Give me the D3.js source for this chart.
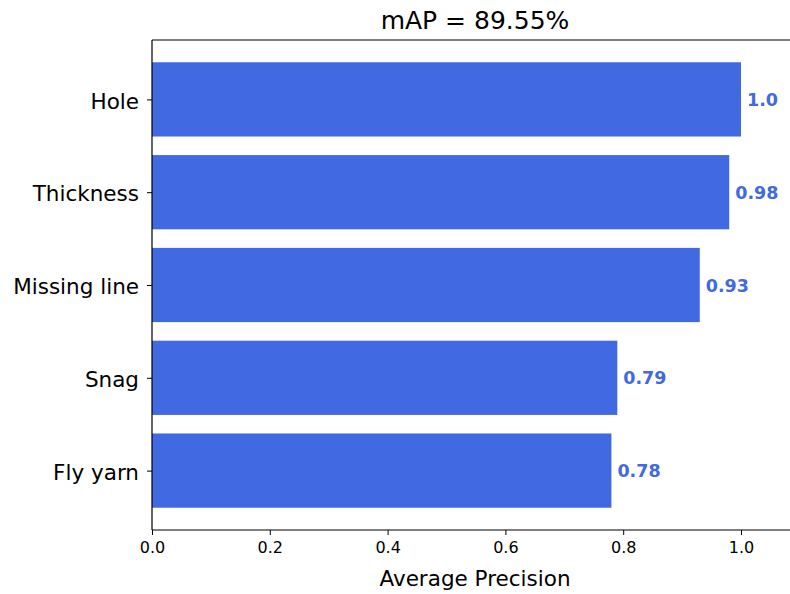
<!DOCTYPE html>
<html><head><meta charset="utf-8">
<script src="https://cdn.jsdelivr.net/npm/d3@7"></script>
<style>body{margin:0;background:#fff}svg{display:block}text{font-family:"DejaVu Sans",sans-serif}</style>
</head><body>
<svg id="c" width="790" height="594"></svg>
<script>
const categories = ["Fly yarn", "Snag", "Missing line", "Thickness", "Hole"];
const values = [0.78, 0.79, 0.93, 0.98, 1.0];
const valueLabels = ["0.78", "0.79", "0.93", "0.98", "1.0"];
const xTicks = [0.0, 0.2, 0.4, 0.6, 0.8, 1.0];
const title = "mAP = 89.55%";
const xLabel = "Average Precision";

const svg = d3.select("#c");
const L = 152, T = 40, B = 530;
const x = d3.scaleLinear().domain([0, 1.1]).range([L, L + 1.1 * 589]);
const y = d3.scaleLinear().domain([-0.64, 4.64]).range([B, T]);
const bh = y(-0.4) - y(0.4);
const color = "#4169E1";

svg.selectAll("rect.bar").data(values).join("rect")
  .attr("class", "bar")
  .attr("x", x(0)).attr("y", (d, i) => y(i + 0.4))
  .attr("width", d => x(d) - x(0)).attr("height", bh)
  .attr("fill", color);

svg.selectAll("text.val").data(values).join("text")
  .attr("class", "val")
  .attr("x", d => x(d) + 6).attr("y", (d, i) => y(i))
  .attr("dy", "0.38em")
  .attr("fill", color).attr("font-weight", "bold").attr("font-size", 17.5)
  .text((d, i) => valueLabels[i]);

// spines
svg.append("line").attr("x1", L).attr("x2", 790).attr("y1", T).attr("y2", T).attr("stroke", "#000").attr("stroke-width", 1.2);
svg.append("line").attr("x1", L).attr("x2", 790).attr("y1", B).attr("y2", B).attr("stroke", "#000").attr("stroke-width", 1.2);
svg.append("line").attr("x1", L).attr("x2", L).attr("y1", T).attr("y2", B).attr("stroke", "#000").attr("stroke-width", 1.2);

const xa = svg.append("g").attr("transform", `translate(0,${B})`)
  .call(d3.axisBottom(x).tickValues(xTicks).tickFormat(d3.format(".1f")).tickSize(5).tickPadding(7));
xa.select(".domain").remove();
xa.selectAll("text").attr("font-size", 16).attr("fill", "#000");

const ya = svg.append("g").attr("transform", `translate(${L},0)`)
  .call(d3.axisLeft(y).tickValues(d3.range(categories.length)).tickFormat(i => categories[i]).tickSize(5).tickPadding(8));
ya.select(".domain").remove();
ya.selectAll("text").attr("font-size", 21.5).attr("fill", "#000").attr("dy", "0.4em");

svg.append("text").attr("x", 475).attr("y", 29).attr("text-anchor", "middle")
  .attr("font-size", 25).attr("fill", "#000").text(title);
svg.append("text").attr("x", 475).attr("y", 586).attr("text-anchor", "middle")
  .attr("font-size", 21.5).attr("fill", "#000").text(xLabel);
</script>
</body></html>
